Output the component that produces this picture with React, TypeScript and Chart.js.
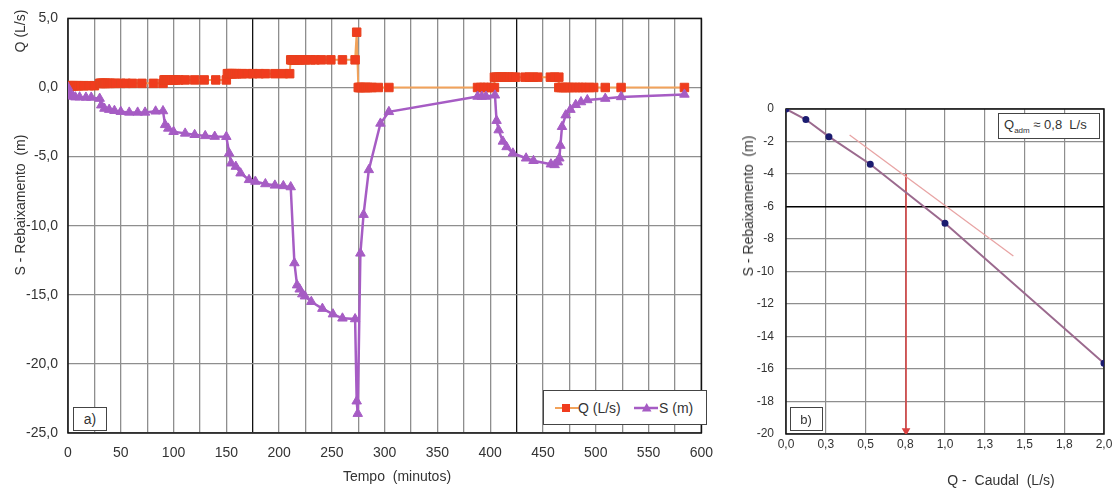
import React, { useEffect, useRef } from 'react';
import Chart from 'chart.js/auto';

const FONT = "'Liberation Sans', Arial, sans-serif";

// ---------- Chart a) : step test ----------
const qTime = [
  0, 1, 2, 3, 4, 5, 6, 8, 10, 12, 15, 20, 25,
  30, 31, 32, 33, 34, 35, 36, 38, 40, 42, 45, 50, 55, 61, 70, 81, 90,
  91, 92, 93, 94, 95, 96, 98, 100, 102, 105, 111, 120, 129, 140, 150,
  151, 152, 153, 154, 155, 156, 158, 160, 162, 165, 170, 175, 181, 187, 196, 204, 210,
  211, 212, 213, 214, 215, 216, 218, 220, 222, 225, 230, 234, 240, 249, 260, 272,
  273.5,
  275, 276, 277, 278, 280, 282, 284, 286, 288, 294, 304, 388, 391, 394, 397, 401, 404,
  404, 406, 408, 410, 412, 414, 416, 418, 421, 424, 433, 437, 441, 445, 457, 461, 465,
  465, 467, 469, 471, 473, 475, 478, 481, 484, 487, 490, 494, 498, 509, 524, 584,
];
const qFlow = [
  0.13, 0.13, 0.13, 0.13, 0.13, 0.13, 0.13, 0.13, 0.13, 0.13, 0.13, 0.13, 0.13,
  0.3, 0.3, 0.3, 0.3, 0.3, 0.3, 0.3, 0.3, 0.3, 0.3, 0.3, 0.3, 0.3, 0.3, 0.3, 0.3, 0.3,
  0.55, 0.55, 0.55, 0.55, 0.55, 0.55, 0.55, 0.55, 0.55, 0.55, 0.55, 0.55, 0.55, 0.55, 0.55,
  1, 1, 1, 1, 1, 1, 1, 1, 1, 1, 1, 1, 1, 1, 1, 1, 1,
  2, 2, 2, 2, 2, 2, 2, 2, 2, 2, 2, 2, 2, 2, 2, 2,
  4,
  0, 0, 0, 0, 0, 0, 0, 0, 0, 0, 0, 0, 0, 0, 0, 0, 0,
  0.75, 0.75, 0.75, 0.75, 0.75, 0.75, 0.75, 0.75, 0.75, 0.75, 0.75, 0.75, 0.75, 0.75, 0.75, 0.75, 0.75,
  0, 0, 0, 0, 0, 0, 0, 0, 0, 0, 0, 0, 0, 0, 0, 0,
];
const sTime = [
  0, 1, 2, 3, 5, 7, 11, 17, 22, 30,
  31.5, 34.5, 39, 44, 50, 58, 66, 73, 83, 90,
  92, 95, 100, 111, 120, 130, 139, 150,
  152.7, 154.5, 159, 163.5, 171.5, 177.5, 187, 196, 204, 211,
  214.5, 217, 219.5, 222, 224.5, 230.5, 241, 251, 260, 272,
  273.5, 274.5, 277, 280, 285, 296, 304,
  388, 392, 396, 404.5,
  406, 408, 412, 415.5, 421.5, 434, 441, 457.5, 461, 464,
  465.5, 466.5, 468, 471.5, 476, 481, 486, 492, 509, 524, 584,
];
const sDrawdown = [
  0, -0.3, -0.5, -0.6, -0.65, -0.7, -0.7, -0.72, -0.72, -0.8,
  -1.28, -1.52, -1.6, -1.68, -1.75, -1.8, -1.8, -1.8, -1.72, -1.7,
  -2.7, -2.96, -3.2, -3.32, -3.42, -3.5, -3.55, -3.56,
  -4.76, -5.48, -5.72, -6.2, -6.68, -6.8, -6.98, -7.08, -7.12, -7.2,
  -12.7, -14.3, -14.6, -14.95, -15.1, -15.5, -16.0, -16.4, -16.7, -16.75,
  -22.7, -23.6, -12.0, -9.2, -5.96, -2.6, -1.76,
  -0.65, -0.65, -0.65, -0.56,
  -2.4, -3.08, -3.9, -4.3, -4.76, -5.12, -5.3, -5.55, -5.6, -5.4,
  -5.12, -4.2, -2.84, -2.0, -1.6, -1.25, -1.05, -0.9, -0.8, -0.68, -0.5,
];
const timeTickLabels = ['0', '50', '100', '150', '200', '250', '300', '350', '400', '450', '500', '550', '600'];
const levelTickLabels = ['5,0', '0,0', '-5,0', '-10,0', '-15,0', '-20,0', '-25,0'];

// ---------- Chart b) : characteristic curve ----------
const testFlow = [0, 0.125, 0.27, 0.53, 1.0, 2.0];
const testDrawdown = [0, -0.65, -1.7, -3.4, -7.03, -15.65];
const tangentFlow = [0.4, 1.43];
const tangentDrawdown = [-1.6, -9.05];
const admFlow = [0.755, 0.755];
const admDrawdown = [-4.0, -19.8];
const caudalTickLabels = ['0,0', '0,3', '0,5', '0,8', '1,0', '1,3', '1,5', '1,8', '2,0'];
const drawdownTickLabels = ['0', '-2', '-4', '-6', '-8', '-10', '-12', '-14', '-16', '-18', '-20'];

const pts = (xs: number[], ys: number[]) => xs.map((x, i) => ({ x, y: ys[i] }));

const framePlugin = {
  id: 'frame',
  beforeDatasetsDraw(chart: any) {
    const { ctx, chartArea: a } = chart;
    ctx.save();
    ctx.strokeStyle = '#111';
    ctx.lineWidth = 1.5;
    ctx.strokeRect(a.left, a.top, a.right - a.left, a.bottom - a.top);
    ctx.restore();
  },
};

const GRID = '#8e8e8e';

export default function App() {
  const refA = useRef<HTMLCanvasElement>(null);
  const refB = useRef<HTMLCanvasElement>(null);

  useEffect(() => {
    Chart.defaults.font.family = FONT;
    Chart.defaults.color = '#333';

    const chartA = new Chart(refA.current!, {
      type: 'scatter',
      data: {
        datasets: [
          {
            label: 'S (m)',
            data: pts(sTime, sDrawdown),
            showLine: true,
            borderColor: '#a65cc4',
            borderWidth: 2.5,
            backgroundColor: '#a65cc4',
            pointStyle: 'triangle',
            pointRadius: 5.5,
            pointBorderWidth: 1,
            pointBorderColor: '#a65cc4',
            order: 0,
          },
          {
            label: 'Q (L/s)',
            data: pts(qTime, qFlow),
            showLine: true,
            borderColor: '#f2a25a',
            borderWidth: 2,
            backgroundColor: '#f03c1e',
            pointStyle: 'rect',
            pointRadius: 6,
            pointBorderWidth: 1,
            pointBorderColor: '#e8401e',
            order: 1,
          },
        ],
      },
      options: {
        animation: false,
        responsive: false,
        maintainAspectRatio: false,
        layout: { padding: { left: 0, top: 16, right: 14, bottom: 0 } },
        plugins: { legend: { display: false }, tooltip: { enabled: false } },
        scales: {
          x: {
            type: 'linear',
            min: 0,
            max: 600,
            border: { display: false },
            grid: {
              drawTicks: false,
              lineWidth: 1.3,
              color: (c: any) => (c.tick && (c.tick.value === 175 || c.tick.value === 425) ? '#111' : GRID),
            },
            ticks: {
              stepSize: 25,
              autoSkip: false,
              maxRotation: 0,
              padding: 12,
              font: { size: 14 },
              color: '#333',
              callback: (v: any) => (Number(v) % 50 === 0 ? timeTickLabels[Number(v) / 50] : ''),
            },
            afterFit: (s: any) => { s.height = 55; },
          },
          y: {
            min: -25,
            max: 5,
            border: { display: false },
            grid: { drawTicks: false, lineWidth: 1.3, color: GRID },
            ticks: {
              stepSize: 5,
              padding: 10,
              font: { size: 14 },
              color: '#333',
              callback: (v: any) => levelTickLabels[Math.round((5 - Number(v)) / 5)],
            },
            afterFit: (s: any) => { s.width = 68; },
          },
        },
      },
      plugins: [framePlugin],
    } as any);

    const chartB = new Chart(refB.current!, {
      type: 'scatter',
      data: {
        datasets: [
          {
            label: 'ensaio',
            data: pts(testFlow, testDrawdown),
            showLine: true,
            borderColor: '#9b6a8e',
            borderWidth: 2,
            backgroundColor: '#1c1c70',
            pointBorderColor: '#1c1c70',
            pointRadius: 2.5,
            order: 0,
          },
          {
            label: 'tangente',
            data: pts(tangentFlow, tangentDrawdown),
            showLine: true,
            borderColor: '#e8a4a4',
            borderWidth: 1.3,
            pointRadius: 0,
            order: 1,
          },
          {
            label: 'Qadm',
            data: pts(admFlow, admDrawdown),
            showLine: true,
            borderColor: '#d94040',
            borderWidth: 1.5,
            backgroundColor: '#d94040',
            pointBorderColor: '#d94040',
            pointStyle: 'triangle',
            pointRadius: [0, 3.5],
            pointRotation: [0, 180],
            order: 2,
          },
        ],
      },
      options: {
        animation: false,
        responsive: false,
        maintainAspectRatio: false,
        layout: { padding: { left: 0, top: 109, right: 12, bottom: 0 } },
        plugins: { legend: { display: false }, tooltip: { enabled: false } },
        scales: {
          x: {
            type: 'linear',
            min: 0,
            max: 2,
            border: { display: false },
            grid: { drawTicks: false, lineWidth: 1.2, color: GRID },
            ticks: {
              stepSize: 0.25,
              autoSkip: false,
              maxRotation: 0,
              padding: 3,
              font: { size: 12 },
              color: '#333',
              callback: (v: any) => caudalTickLabels[Math.round(Number(v) / 0.25)],
            },
            afterFit: (s: any) => { s.height = 54; },
          },
          y: {
            min: -20,
            max: 0,
            border: { display: false },
            grid: {
              drawTicks: false,
              lineWidth: (c: any) => (c.tick && c.tick.value === -6 ? 1.5 : 1.2),
              color: (c: any) => (c.tick && c.tick.value === -6 ? '#000' : GRID),
            },
            ticks: {
              stepSize: 2,
              padding: 12,
              font: { size: 12 },
              color: '#333',
              callback: (v: any) => drawdownTickLabels[Math.round(-Number(v) / 2)],
            },
            afterFit: (s: any) => { s.width = 56; },
          },
        },
      },
      plugins: [framePlugin],
    } as any);

    return () => {
      chartA.destroy();
      chartB.destroy();
    };
  }, []);

  const txt: React.CSSProperties = { position: 'absolute', fontFamily: FONT, color: '#333', whiteSpace: 'pre' };
  const rot = (cx: number, cy: number, size: number): React.CSSProperties => ({
    ...txt,
    left: cx,
    top: cy,
    fontSize: size,
    transform: 'translate(-50%, -50%) rotate(-90deg)',
  });
  const center = (cx: number, cy: number, size: number): React.CSSProperties => ({
    ...txt,
    left: cx,
    top: cy,
    fontSize: size,
    transform: 'translate(-50%, -50%)',
  });
  const box = (l: number, t: number, w: number, h: number): React.CSSProperties => ({
    position: 'absolute',
    left: l,
    top: t,
    width: w,
    height: h,
    boxSizing: 'border-box',
    border: '1px solid #444',
    background: '#fff',
  });

  return (
    <div style={{ position: 'absolute', left: 0, top: 0, width: 1116, height: 488, background: '#fff', overflow: 'hidden' }}>
      <canvas ref={refA} width={725} height={488} style={{ position: 'absolute', left: 0, top: 0, width: 725, height: 488 }} />
      <canvas ref={refB} width={386} height={488} style={{ position: 'absolute', left: 730, top: 0, width: 386, height: 488 }} />

      {/* chart a titles */}
      <div style={rot(20, 31, 14)}>Q (L/s)</div>
      <div style={rot(20, 205, 14)}>S - Rebaixamento  (m)</div>
      <div style={center(397, 476, 14)}>Tempo  (minutos)</div>

      {/* chart a legend */}
      <div style={box(543, 390, 164, 35)} />
      <svg style={{ position: 'absolute', left: 543, top: 390 }} width={164} height={35}>
        <line x1={12} y1={18} x2={36} y2={18} stroke="#f2a25a" strokeWidth={2} />
        <rect x={19} y={14} width={8} height={8} fill="#f03c1e" />
        <line x1={91} y1={18} x2={115} y2={18} stroke="#a65cc4" strokeWidth={2.5} />
        <polygon points="103.7,13 108.5,21.5 98.9,21.5" fill="#a65cc4" />
      </svg>
      <div style={{ ...txt, left: 578, top: 400, fontSize: 14 }}>Q (L/s)</div>
      <div style={{ ...txt, left: 659, top: 400, fontSize: 14 }}>S (m)</div>

      {/* a) label */}
      <div style={box(73, 407, 34, 24)} />
      <div style={center(90, 419, 14)}>a)</div>

      {/* chart b titles */}
      <div style={rot(748, 206, 14)}>S - Rebaixamento  (m)</div>
      <div style={center(1001, 480, 14)}>Q -  Caudal  (L/s)</div>

      {/* Qadm box */}
      <div style={box(998, 113, 102, 26)} />
      <div style={{ ...txt, left: 1004, top: 117, fontSize: 13 }}>
        Q<sub style={{ fontSize: 8 }}>adm</sub> ≈ 0,8  L/s
      </div>

      {/* b) label */}
      <div style={box(790, 407, 33, 24)} />
      <div style={center(806, 419, 13)}>b)</div>
    </div>
  );
}
